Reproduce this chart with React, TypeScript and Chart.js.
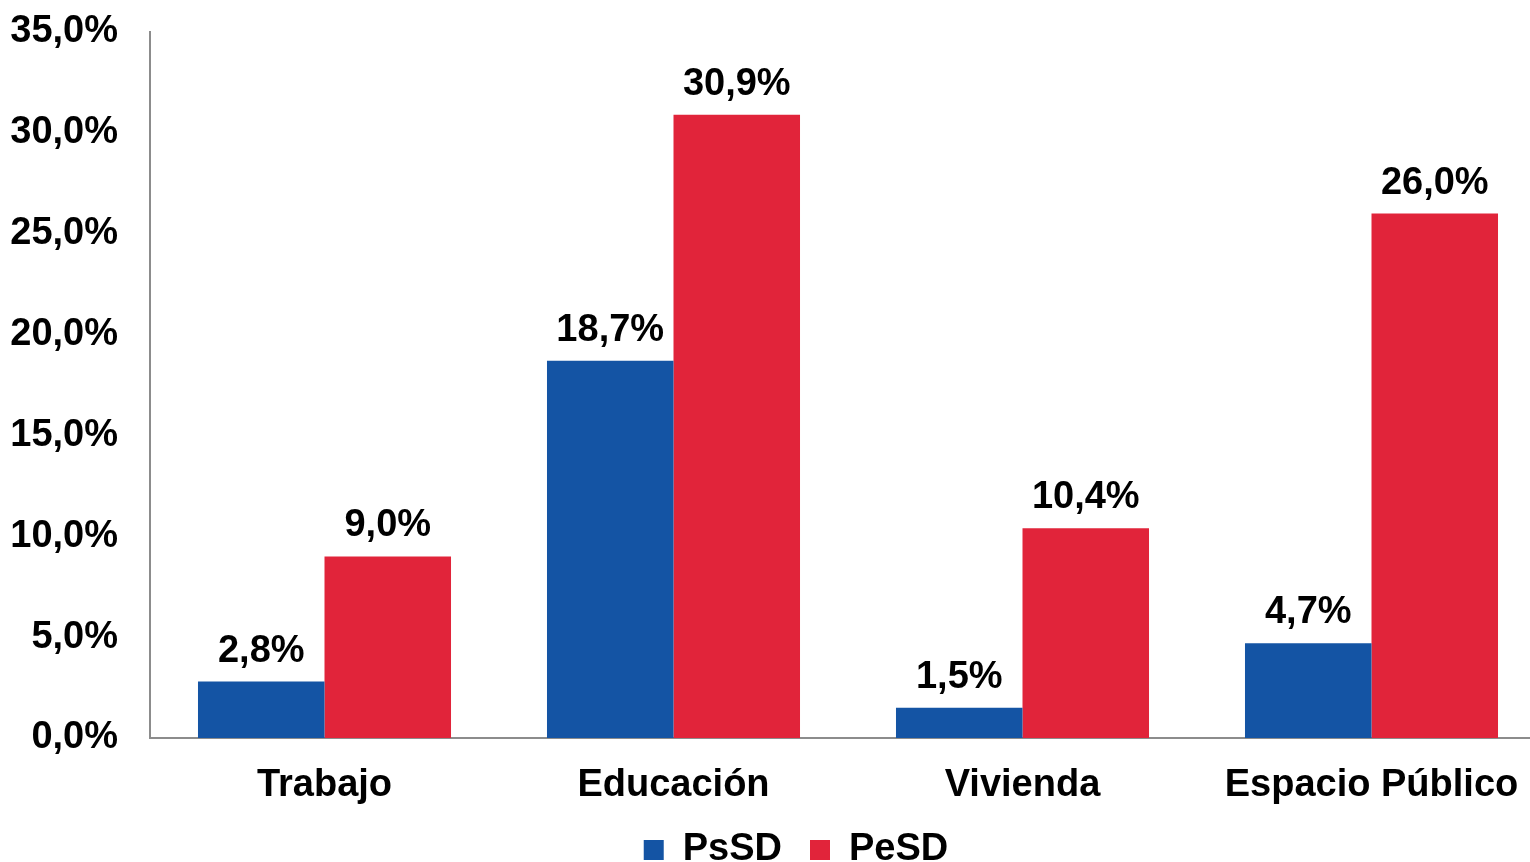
import React, { useEffect, useRef } from "react";
import { Chart, registerables } from "chart.js";

Chart.register(...registerables);

const categories = ["Trabajo", "Educación", "Vivienda", "Espacio Público"];
const psSD = [2.8, 18.7, 1.5, 4.7];
const peSD = [9.0, 30.9, 10.4, 26.0];
const seriesNames = ["PsSD", "PeSD"];
const seriesColors = ["#1454A4", "#E1243A"];

const FONT = "'Liberation Sans', Arial, sans-serif";
const FS = 38;
const fmt = (v: number) => v.toFixed(1).replace(".", ",") + "%";

const dataLabels = {
  id: "dataLabels",
  afterDatasetsDraw(chart: any) {
    const ctx = chart.ctx;
    ctx.save();
    ctx.font = `bold ${FS}px ${FONT}`;
    ctx.fillStyle = "#000";
    ctx.textAlign = "center";
    ctx.textBaseline = "alphabetic";
    chart.data.datasets.forEach((ds: any, i: number) => {
      const meta = chart.getDatasetMeta(i);
      meta.data.forEach((el: any, j: number) => {
        ctx.fillText(fmt(ds.data[j]), el.x, el.y - 20);
      });
    });
    ctx.restore();
  },
};

const layoutTweak = {
  id: "layoutTweak",
  afterLayout(chart: any) {
    if (chart.legend) {
      chart.legend.left += 23;
      chart.legend.right += 23;
    }
    const x = chart.scales.x;
    if (x) x.bottom = x.top + 90;
  },
};

export default function App() {
  const ref = useRef<HTMLCanvasElement | null>(null);
  useEffect(() => {
    if (!ref.current) return;
    const chart = new Chart(ref.current, {
      type: "bar",
      data: {
        labels: categories,
        datasets: [
          { label: seriesNames[0], data: psSD, backgroundColor: seriesColors[0], categoryPercentage: 0.725, barPercentage: 1 },
          { label: seriesNames[1], data: peSD, backgroundColor: seriesColors[1], categoryPercentage: 0.725, barPercentage: 1 },
        ],
      },
      options: {
        responsive: false,
        animation: false,
        layout: { padding: { top: 32, left: 0, right: 0, bottom: 0 } },
        scales: {
          x: {
            grid: { display: false },
            border: { display: true, color: "#8C8C8C", width: 2 },
            ticks: { color: "#000", font: { family: FONT, size: FS, weight: "bold" }, padding: 17, maxRotation: 0 },
            afterFit: (s: any) => { s.height = 65; },
          },
          y: {
            min: 0,
            max: 35,
            grid: { display: false },
            border: { display: true, color: "#8C8C8C", width: 2 },
            ticks: {
              stepSize: 5,
              color: "#000",
              font: { family: FONT, size: FS, weight: "bold" },
              padding: 24,
              callback: (v: any) => fmt(Number(v)),
            },
            afterFit: (s: any) => { s.width = 150; s.paddingTop = 0; s.paddingBottom = 0; },
          },
        },
        plugins: {
          legend: {
            position: "bottom",
            labels: {
              color: "#000",
              font: { family: FONT, size: FS, weight: "bold" },
              boxWidth: 20,
              boxHeight: 20,
              padding: 28,
            },
          },
          tooltip: { enabled: false },
        },
      },
      plugins: [dataLabels, layoutTweak],
    } as any);
    return () => chart.destroy();
  }, []);
  return (
    <div style={{ position: "fixed", left: 0, top: 0, width: 1530, height: 862, overflow: "hidden", background: "#fff" }}>
      <canvas ref={ref} width={1546} height={879} style={{ display: "block" }} />
    </div>
  );
}
